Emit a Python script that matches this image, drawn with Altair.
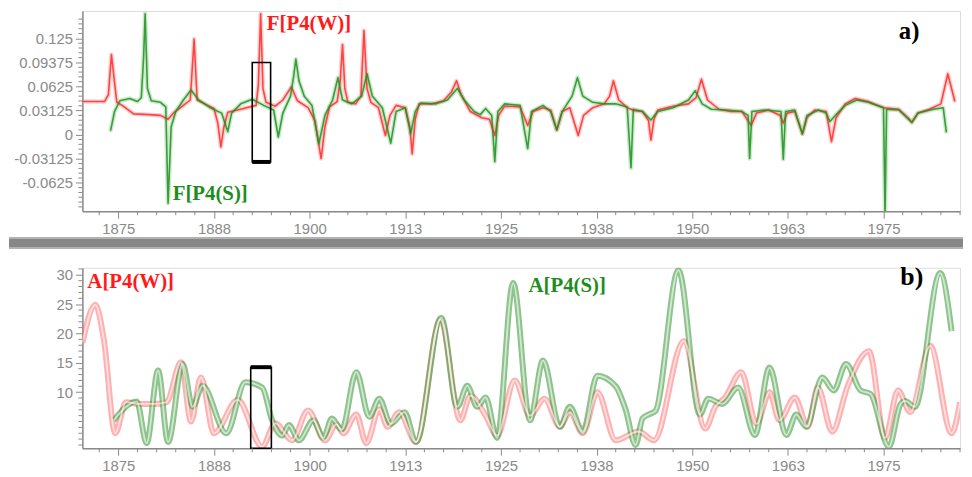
import altair as alt
import pandas as pd

# ---------------- panel a) : F series ----------------
fw_year = [1870.3, 1873.2, 1873.7, 1874.1, 1874.5, 1874.8, 1875.5, 1877.0, 1879.0, 1880.5,
           1881.5, 1882.3, 1883.5, 1884.4, 1884.9, 1885.3, 1886.5, 1887.5, 1888.0, 1888.4,
           1888.8, 1889.3, 1891.0, 1893.0, 1893.3, 1893.6, 1893.9, 1894.3, 1895.5, 1896.5,
           1897.6, 1898.4, 1899.8, 1900.7, 1901.5, 1902.0, 1902.6, 1903.6, 1904.0, 1904.3,
           1904.6, 1905.0, 1906.0, 1906.7, 1907.1, 1907.5, 1908.0, 1909.0, 1909.9, 1910.5,
           1911.3, 1912.5, 1913.1, 1913.4, 1913.8, 1914.3, 1916.0, 1917.5, 1918.5, 1919.2,
           1919.8, 1921.0, 1922.5, 1923.5, 1924.2, 1924.7, 1925.5, 1927.5, 1928.5, 1929.2,
           1930.5, 1931.5, 1932.3, 1933.0, 1934.0, 1935.1, 1935.8, 1937.0, 1938.5, 1939.2,
           1939.7, 1940.4, 1941.5, 1942.5, 1943.5, 1944.3, 1944.6, 1945.0, 1945.5, 1947.5,
           1949.5, 1950.5, 1951.2, 1952.0, 1953.5, 1955.0, 1956.5, 1957.7, 1958.4, 1960.0,
           1961.5, 1961.9, 1962.4, 1963.4, 1964.4, 1965.0, 1966.0, 1967.5, 1968.2, 1968.8,
           1970.0, 1971.3, 1973.0, 1975.0, 1977.0, 1978.2, 1978.7, 1979.5, 1981.0, 1982.5,
           1983.4, 1984.3]
fw_val = [0.043, 0.043, 0.052, 0.104, 0.068, 0.042, 0.038, 0.027, 0.026, 0.025,
          0.020, 0.029, 0.038, 0.045, 0.124, 0.045, 0.039, 0.034, 0.015, -0.016,
          0.010, 0.029, 0.033, 0.038, 0.065, 0.157, 0.060, 0.042, 0.037, 0.045,
          0.062, 0.044, 0.035, 0.018, -0.031, 0.010, 0.036, 0.043, 0.070, 0.117,
          0.060, 0.042, 0.040, 0.050, 0.135, 0.060, 0.042, 0.035, -0.001, 0.025,
          0.038, 0.035, 0.010, -0.025, 0.020, 0.040, 0.040, 0.044, 0.055, 0.070,
          0.052, 0.030, 0.022, 0.020, -0.001, 0.025, 0.037, 0.036, 0.012, 0.030,
          0.035, 0.032, 0.006, 0.030, 0.035, -0.001, 0.025, 0.035, 0.040, 0.050,
          0.070, 0.045, 0.035, 0.031, 0.030, 0.018, -0.007, 0.020, 0.032, 0.037,
          0.040, 0.048, 0.072, 0.045, 0.033, 0.030, 0.030, 0.012, 0.028, 0.032,
          0.025, 0.015, 0.028, 0.030, 0.001, 0.022, 0.032, 0.030, -0.009, 0.022,
          0.040, 0.047, 0.043, 0.035, 0.033, 0.022, 0.016, 0.028, 0.033, 0.040,
          0.079, 0.044]

fs_year = [1874.0, 1874.5, 1875.2, 1876.5, 1877.5, 1878.0, 1878.3, 1878.5, 1878.8, 1879.3,
           1880.5, 1881.2, 1881.5, 1881.9, 1882.5, 1883.5, 1884.5, 1885.5, 1887.0, 1888.5,
           1889.3, 1889.8, 1891.0, 1892.5, 1894.0, 1895.3, 1895.9, 1896.5, 1897.5, 1897.9,
           1898.2, 1898.6, 1899.3, 1900.3, 1901.2, 1902.0, 1903.0, 1903.7, 1904.3, 1905.5,
           1906.8, 1907.5, 1908.2, 1909.5, 1910.6, 1911.3, 1912.5, 1913.2, 1913.8, 1914.5,
           1916.5, 1918.0, 1919.3, 1920.2, 1921.5, 1922.3, 1923.0, 1923.8, 1924.2, 1924.6,
           1925.5, 1927.5, 1928.5, 1929.0, 1930.5, 1931.5, 1932.3, 1933.0, 1934.3, 1935.0,
           1935.7, 1937.0, 1938.5, 1940.0, 1941.5, 1942.0, 1942.3, 1943.5, 1944.6, 1945.5,
           1947.5, 1949.5, 1950.4, 1951.3, 1952.5, 1954.5, 1956.5, 1957.3, 1957.5, 1957.8,
           1959.5, 1961.6, 1961.9, 1962.2, 1963.4, 1964.4, 1965.0, 1966.5, 1967.5, 1968.0,
           1968.7, 1970.0, 1971.5, 1973.0, 1975.0, 1975.2, 1975.4, 1977.0, 1978.7, 1979.5,
           1981.5, 1982.8, 1983.2]
fs_val = [0.006, 0.030, 0.044, 0.047, 0.043, 0.048, 0.100, 0.157, 0.060, 0.044,
          0.042, 0.036, -0.089, 0.010, 0.030, 0.045, 0.058, 0.045, 0.035, 0.028,
          0.004, 0.028, 0.040, 0.046, 0.038, 0.032, -0.003, 0.028, 0.050, 0.075,
          0.098, 0.070, 0.050, 0.038, -0.012, 0.025, 0.045, 0.074, 0.045, 0.040,
          0.050, 0.079, 0.050, 0.035, -0.011, 0.030, 0.035, 0.001, 0.030, 0.041,
          0.040, 0.045, 0.060, 0.045, 0.030, 0.026, 0.034, 0.025, -0.035, 0.030,
          0.040, 0.038, -0.018, 0.030, 0.038, 0.030, 0.006, 0.030, 0.050, 0.074,
          0.050, 0.042, 0.040, 0.040, 0.036, -0.043, 0.033, 0.030, 0.019, 0.030,
          0.035, 0.045, 0.057, 0.040, 0.033, 0.032, 0.030, 0.025, -0.031, 0.030,
          0.032, 0.030, -0.032, 0.030, 0.032, 0.001, 0.025, 0.032, 0.028, 0.017,
          0.025, 0.038, 0.045, 0.042, 0.035, -0.105, 0.033, 0.032, 0.016, 0.028,
          0.033, 0.035, 0.004]

# ---------------- panel b) : A series ----------------
aw_year = [1870.3, 1872.0, 1873.1, 1874.6, 1876.0, 1877.8, 1879.8, 1881.3, 1883.2, 1884.5,
           1885.8, 1887.5, 1890.6, 1893.8, 1895.5, 1897.7, 1899.8, 1902.0, 1903.5, 1904.4,
           1906.1, 1907.4, 1909.1, 1910.2, 1911.7, 1913.9, 1917.1, 1919.7, 1921.0, 1923.0,
           1924.5, 1926.8, 1928.8, 1930.7, 1932.7, 1934.0, 1935.7, 1937.6, 1940.0, 1943.0,
           1945.0, 1948.9, 1951.7, 1953.0, 1954.3, 1956.4, 1958.4, 1960.1, 1961.4, 1963.4,
           1965.1, 1966.4, 1968.3, 1970.3, 1973.1, 1975.2, 1976.9, 1978.5, 1981.1, 1983.9,
           1985.0]
aw_val = [18.4, 24.9, 19.0, 3.0, 8.3, 8.0, 8.0, 8.3, 15.1, 5.0,
          12.5, 3.0, 8.7, 0.7, 4.7, 1.8, 6.9, 1.8, 4.5, 3.0,
          6.2, 1.3, 7.1, 4.1, 6.6, 1.5, 22.4, 5.2, 9.4, 6.0,
          2.6, 12.0, 6.0, 8.9, 4.1, 6.6, 3.0, 10.0, 1.8, 3.3,
          1.8, 18.7, 3.8, 7.5, 9.1, 13.4, 4.6, 10.0, 5.2, 9.1,
          4.1, 10.8, 3.3, 11.0, 17.0, 2.2, 10.3, 6.6, 17.9, 3.0,
          8.3]

as_year = [1874.4, 1877.4, 1878.7, 1880.2, 1881.5, 1883.4, 1884.7, 1886.0, 1889.1, 1891.6,
           1893.8, 1895.1, 1896.4, 1897.3, 1898.6, 1900.5, 1901.8, 1902.9, 1904.2, 1906.1,
           1907.8, 1909.1, 1910.6, 1912.4, 1913.9, 1917.2, 1919.3, 1920.6, 1921.9, 1923.0,
           1924.5, 1926.6, 1928.8, 1930.5, 1932.7, 1934.0, 1935.7, 1937.6, 1940.0, 1941.3,
           1942.6, 1943.5, 1944.3, 1945.2, 1948.2, 1951.0, 1952.1, 1953.9, 1956.0, 1958.2,
           1960.1, 1962.3, 1963.6, 1964.9, 1967.0, 1968.5, 1970.1, 1972.0, 1973.3, 1975.7,
           1977.2, 1977.8, 1979.1, 1982.4, 1983.9]
as_val = [5.2, 8.4, 1.3, 13.7, 1.5, 14.8, 7.5, 11.1, 3.0, 11.7,
          10.8, 5.2, 2.6, 4.4, 1.8, 5.2, 2.2, 5.5, 3.6, 13.4,
          5.8, 8.9, 4.6, 6.6, 1.5, 22.7, 7.5, 11.1, 7.5, 9.1,
          2.2, 28.6, 5.2, 15.4, 4.1, 7.5, 3.3, 12.8, 11.0, 7.0,
          1.0, 5.5, 6.2, 6.8, 30.8, 6.2, 8.9, 8.0, 10.8, 2.7,
          14.2, 2.7, 6.2, 4.1, 12.5, 10.3, 14.8, 10.3, 9.7, 0.7,
          7.9, 8.5, 7.5, 30.3, 20.4]

# ---------------- annotations (value = top of the text) ----------------
ann_a_text = ["F[P4(W)]", "F[P4(S)]", "a)"]
ann_a_year = [1894.4, 1882.1, 1977.0]
ann_a_val = [0.1580, -0.0630, 0.1503]
ann_a_color = ["#ff1a1a", "#1e8c1e", "#000000"]
ann_a_size = [21, 21, 25]

ann_b_text = ["A[P4(W)]", "A[P4(S)]", "b)"]
ann_b_year = [1870.95, 1928.6, 1977.2]
ann_b_val = [30.6, 29.9, 31.9]
ann_b_color = ["#ff1a1a", "#1e8c1e", "#000000"]
ann_b_size = [21, 21, 26]

# highlighted window (box) in both panels
box_a = {"y1": 1892.5, "y2": 1894.9, "v1": 0.0937, "v2": -0.0354}
box_b = {"y1": 1892.3, "y2": 1895.0, "v1": 14.26, "v2": 0.44}

# ---------------- ticks ----------------
x_major = [1875, 1887.5, 1900, 1912.5, 1925, 1937.5, 1950, 1962.5, 1975]
x_minor = [round(1872.5 + 2.5 * i, 2) for i in range(46)
           if round(1872.5 + 2.5 * i, 2) not in x_major]
ya_major = [-0.0625, -0.03125, 0.0, 0.03125, 0.0625, 0.09375, 0.125]
ya_minor = [round(0.00625 * k, 6) for k in range(-15, 25)
            if round(0.00625 * k, 6) not in ya_major]
yb_major = [10, 15, 20, 25, 30]
yb_minor = [v for v in range(1, 32) if v not in yb_major]

X_DOMAIN = [1870.3, 1985.0]
YA_DOMAIN = [-0.0994, 0.1606]
YB_DOMAIN = [0.44, 31.2]

assert len(fw_year) == len(fw_val) and len(fs_year) == len(fs_val)
assert len(aw_year) == len(aw_val) and len(as_year) == len(as_val)

GREY = "#8a8a8a"
LFONT = "Liberation Sans"
WA, HA = 885, 202
WB, HB = 885, 182

axis_common = dict(title=None, grid=False, labelOverlap=False, labelFont=LFONT,
                   labelFontSize=15, labelColor=GREY, domainColor=GREY,
                   tickColor=GREY, domainWidth=1.5, tickSize=7, labelPadding=3)

x_axis = alt.Axis(values=x_major, labelExpr="'' + round(datum.value)", **axis_common)
ya_axis = alt.Axis(values=ya_major, labelExpr="'' + datum.value",
                   minExtent=74, maxExtent=74, **axis_common)
yb_axis = alt.Axis(values=yb_major, labelExpr="'' + datum.value",
                   minExtent=74, maxExtent=74, **axis_common)

xs = alt.Scale(domain=X_DOMAIN, nice=False, zero=False)
yas = alt.Scale(domain=YA_DOMAIN, nice=False, zero=False)
ybs = alt.Scale(domain=YB_DOMAIN, nice=False, zero=False)


def X(field="year"):
    return alt.X(f"{field}:Q", scale=xs, axis=x_axis)


def YA(field="val"):
    return alt.Y(f"{field}:Q", scale=yas, axis=ya_axis)


def YB(field="val"):
    return alt.Y(f"{field}:Q", scale=ybs, axis=yb_axis)


fw = pd.DataFrame({"year": fw_year, "val": fw_val})
fs = pd.DataFrame({"year": fs_year, "val": fs_val})
aw = pd.DataFrame({"year": aw_year, "val": aw_val})
as_ = pd.DataFrame({"year": as_year, "val": as_val})


def top_line(df, color, width, opacity):
    return alt.Chart(df).mark_line(
        color=color, strokeWidth=width, opacity=opacity, strokeJoin="round",
        strokeCap="round", clip=True, interpolate="linear"
    ).encode(x=X(), y=YA())


def bot_line(df, color, width, opacity):
    return alt.Chart(df).mark_line(
        color=color, strokeWidth=width, opacity=opacity, strokeJoin="round",
        clip=True, interpolate="monotone"
    ).encode(x=X(), y=YB())


ann_a = pd.DataFrame({"year": ann_a_year, "val": ann_a_val, "text": ann_a_text,
                      "color": ann_a_color, "size": ann_a_size})
ann_b = pd.DataFrame({"year": ann_b_year, "val": ann_b_val, "text": ann_b_text,
                      "color": ann_b_color, "size": ann_b_size})


def texts(df, yenc):
    return alt.Chart(df).mark_text(
        font="Liberation Serif", fontWeight="bold", align="left", baseline="top"
    ).encode(x=X(), y=yenc, text="text:N",
             color=alt.Color("color:N", scale=None),
             size=alt.Size("size:Q", scale=None))


def box(b, yenc_top, yenc_thick):
    d = pd.DataFrame([b])
    rect = alt.Chart(d).mark_rect(filled=False, stroke="black", strokeWidth=1.6).encode(
        x=X("y1"), x2="y2", y=yenc_top, y2="v2")
    thick = alt.Chart(d).mark_rule(color="black", strokeWidth=4).encode(
        x=X("y1"), x2="y2", y=yenc_thick)
    return rect + thick


def minor_x(height):
    d = pd.DataFrame({"year": x_minor})
    return alt.Chart(d).mark_rule(color=GREY, strokeWidth=1).encode(
        x=X(), y=alt.value(height), y2=alt.value(height + 4))


def minor_y(vals, yenc_fn):
    d = pd.DataFrame({"val": vals})
    return alt.Chart(d).mark_rule(color=GREY, strokeWidth=1).encode(
        y=yenc_fn(), x=alt.value(0), x2=alt.value(-4))


# separator bar below panel a)
sep_df = pd.DataFrame({"k": [0]})
sep_outer = alt.Chart(sep_df).mark_rect(color="#b2b2b2").encode(
    x=alt.value(-74), x2=alt.value(888), y=alt.value(228), y2=alt.value(240))
sep_inner = alt.Chart(sep_df).mark_rect(color="#878787").encode(
    x=alt.value(-74), x2=alt.value(888), y=alt.value(230), y2=alt.value(238))

panel_a = alt.layer(
    top_line(fw, "#ff9c9c", 4.5, 0.45),
    top_line(fs, "#8fd08f", 4.5, 0.45),
    top_line(fw, "#ff2a2a", 1.6, 0.85),
    top_line(fs, "#1f8f1f", 1.6, 0.85),
    box(box_a, YA("v1"), YA("v2")),
    texts(ann_a, YA()),
    minor_x(HA), minor_y(ya_minor, YA),
    sep_outer, sep_inner,
).properties(width=WA, height=HA)

panel_b = alt.layer(
    bot_line(aw, "#ff6464", 6, 0.5),
    bot_line(as_, "#3a9a3a", 6, 0.58),
    bot_line(aw, "#ffffff", 1.8, 0.6),
    bot_line(as_, "#ffffff", 1.8, 0.6),
    box(box_b, YB("v1"), YB("v1")),
    texts(ann_b, YB()),
    minor_x(HB), minor_y(yb_minor, YB),
).properties(width=WB, height=HB)

chart = alt.vconcat(
    panel_a, panel_b, spacing=13,
    padding={"left": 0, "top": 0, "right": 0, "bottom": 0},
).configure_view(stroke=None).configure(background="white")

chart.save("out.html", embed_options={"renderer": "svg", "actions": False})
